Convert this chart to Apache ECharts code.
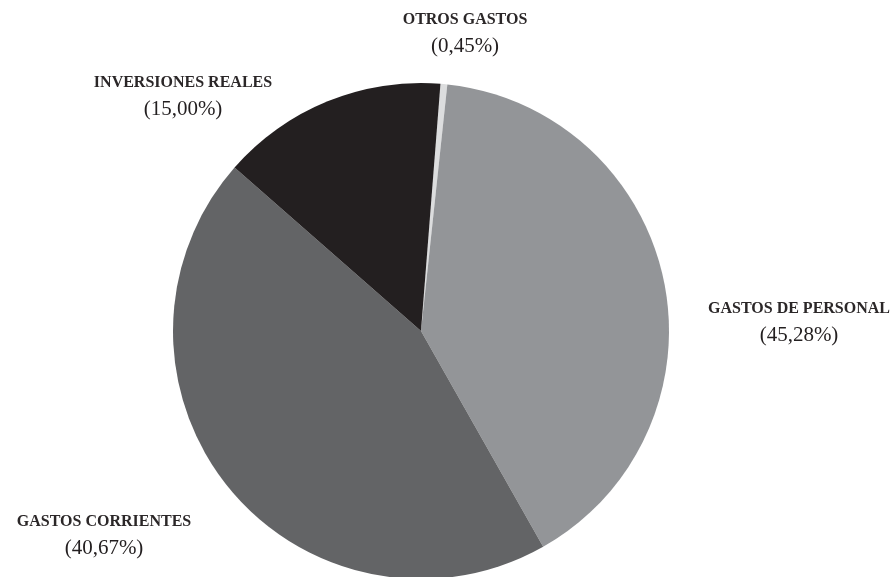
<!DOCTYPE html>
<html>
<head>
<meta charset="utf-8">
<script src="https://cdn.jsdelivr.net/npm/echarts@6/dist/echarts.min.js"></script>
<style>
html,body{margin:0;padding:0;background:#fff;}
#chart{width:894px;height:577px;}
</style>
</head>
<body>
<div id="chart"></div>
<script>
// Slice order (clockwise from top)
const categories = ['OTROS GASTOS', 'GASTOS DE PERSONAL', 'GASTOS CORRIENTES', 'INVERSIONES REALES'];
// Slice sizes as drawn in the reference
const values = [0.45, 40.67, 45.28, 15.00];
// Percentage text as printed in the reference labels
const labelTexts = ['(0,45%)', '(45,28%)', '(40,67%)', '(15,00%)'];
const colors = ['#dcddde', '#939598', '#636466', '#231f20'];
// label block centers
const labelPos = [[465, 33], [799, 322], [104, 535], [183, 96]];

const chart = echarts.init(document.getElementById('chart'));
chart.setOption({
  animation: false,
  backgroundColor: '#ffffff',
  series: [{
    type: 'pie',
    center: [421, 331],
    radius: 248,
    startAngle: 85.5,
    clockwise: true,
    avoidLabelOverlap: false,
    data: categories.map((c, i) => ({ name: c, value: values[i], itemStyle: { color: colors[i] } })),
    itemStyle: { borderWidth: 0 },
    label: {
      show: true,
      position: 'outside',
      formatter: p => '{n|' + p.name + '}\n{p|' + labelTexts[p.dataIndex] + '}',
      rich: {
        n: { fontFamily: 'Liberation Serif', fontSize: 16, fontWeight: 'bold', color: '#2b2728', lineHeight: 26, align: 'center' },
        p: { fontFamily: 'Liberation Serif', fontSize: 21, color: '#231f20', lineHeight: 26, align: 'center' }
      }
    },
    labelLine: { show: false },
    labelLayout: function (params) {
      const p = labelPos[params.dataIndex];
      return { x: p[0], y: p[1], align: 'center', verticalAlign: 'middle', hideOverlap: false };
    },
    emphasis: { disabled: true }
  }]
});
</script>
</body>
</html>
